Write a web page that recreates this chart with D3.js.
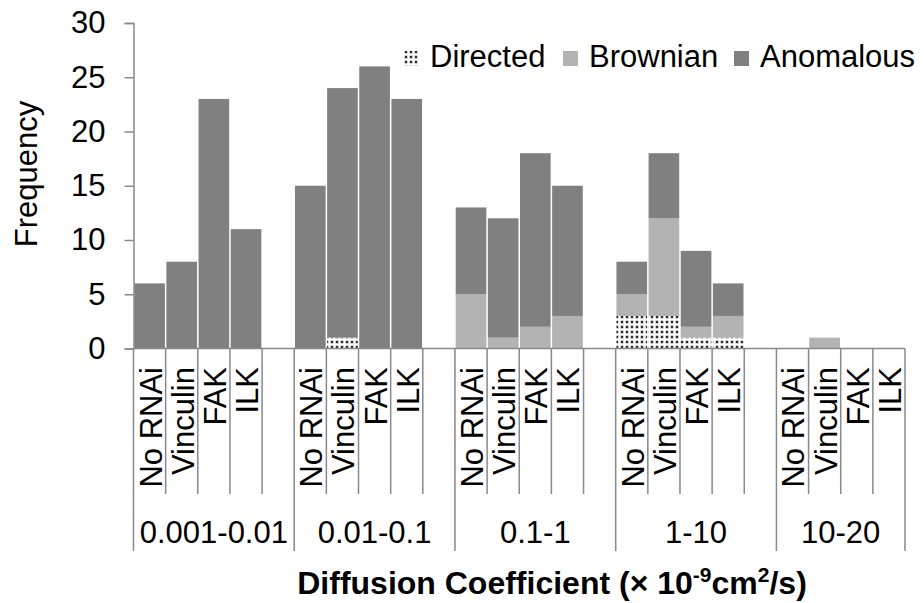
<!DOCTYPE html>
<html>
<head>
<meta charset="utf-8">
<script src="https://cdn.jsdelivr.net/npm/d3@7/dist/d3.min.js"></script>
<style>
  html, body { margin: 0; padding: 0; background: #fff; }
  svg { display: block; font-family: "Liberation Sans", Arial, sans-serif; }
</style>
</head>
<body>
<svg id="chart" width="924" height="603"></svg>
<script>
// Diffusion-coefficient bins and RNAi treatments
const groups = ["0.001-0.01", "0.01-0.1", "0.1-1", "1-10", "10-20"];
const treatments = ["No RNAi", "Vinculin", "FAK", "ILK"];

// Trajectory counts per bin (rows) and treatment (columns)
const directed  = [[0, 0, 0, 0], [0, 1, 0, 0], [0, 0, 0, 0], [3, 3, 1, 1], [0, 0, 0, 0]];
const brownian  = [[0, 0, 0, 0], [0, 0, 0, 0], [5, 1, 2, 3], [2, 9, 1, 2], [0, 1, 0, 0]];
const anomalous = [[6, 8, 23, 11], [15, 23, 26, 23], [8, 11, 16, 12], [3, 6, 7, 3], [0, 0, 0, 0]];

const seriesNames = ["Directed", "Brownian", "Anomalous"];
const yTicks = [0, 5, 10, 15, 20, 25, 30];

const svg = d3.select("#chart");
const axisColor = "#898989";
const fontSize = 31;

// Category slots: four treatments per bin, with an empty slot between bins
const slots = [];
groups.forEach((g, gi) => {
  treatments.forEach((t, ti) => slots.push({
    key: gi + "|" + t, group: gi, treatment: t,
    Directed: directed[gi][ti], Brownian: brownian[gi][ti], Anomalous: anomalous[gi][ti]
  }));
  if (gi < groups.length - 1) slots.push({ key: gi + "|gap", group: gi, treatment: null,
    Directed: 0, Brownian: 0, Anomalous: 0 });
});

const x = d3.scaleBand().domain(slots.map(d => d.key)).range([133.5, 905]).padding(0);
const y = d3.scaleLinear().domain([0, 30]).range([348.5, 23]);

// Dotted fill for the directed segments
const defs = svg.append("defs");
const pat = defs.append("pattern").attr("id", "dots")
  .attr("patternUnits", "userSpaceOnUse").attr("width", 5).attr("height", 5);
pat.append("rect").attr("width", 5).attr("height", 5).attr("fill", "#fff");
pat.append("rect").attr("x", 0.5).attr("y", 0.5).attr("width", 3).attr("height", 3).attr("fill", "#a0a0a0");
pat.append("rect").attr("x", 1).attr("y", 1).attr("width", 2).attr("height", 2).attr("fill", "#2a2a2a");

const fills = { Directed: "url(#dots)", Brownian: "#b3b3b3", Anomalous: "#808080" };

const stacked = d3.stack().keys(seriesNames)(slots);

svg.append("g").selectAll("g").data(stacked).join("g")
  .attr("fill", s => fills[s.key])
  .selectAll("rect").data(s => s.filter(d => d[1] > d[0])).join("rect")
  .attr("x", d => x(d.data.key) + 0.75)
  .attr("width", x.bandwidth() - 1.5)
  .attr("y", d => y(d[1]))
  .attr("height", d => y(d[0]) - y(d[1]));

// Y axis
const yAxis = svg.append("g").attr("transform", "translate(133.5,0)")
  .call(d3.axisLeft(y).tickValues(yTicks).tickSize(9).tickPadding(19));
yAxis.select(".domain").attr("stroke", axisColor).attr("stroke-width", 1.5);
yAxis.selectAll(".tick line").attr("stroke", axisColor).attr("stroke-width", 1.5);
yAxis.selectAll(".tick text").attr("font-size", fontSize).attr("fill", "#000")
  .attr("font-family", "Liberation Sans, Arial, sans-serif");

// Category axis baseline
svg.append("line").attr("x1", 133.5).attr("x2", 905).attr("y1", y(0)).attr("y2", y(0))
  .attr("stroke", axisColor).attr("stroke-width", 1.5);

// Slot boundary ticks: short between treatments, long at bin boundaries
const boundaries = d3.range(slots.length + 1).map(i => {
  const pos = i < slots.length ? x(slots[i].key) : x.range()[1];
  const isGroupEdge = i === slots.length || i === 0 || slots[i].group !== slots[i - 1].group;
  return { pos, long: isGroupEdge };
});
svg.append("g").selectAll("line").data(boundaries).join("line")
  .attr("x1", d => d.pos).attr("x2", d => d.pos)
  .attr("y1", y(0)).attr("y2", d => d.long ? 551 : 494)
  .attr("stroke", axisColor).attr("stroke-width", 1.5);

// Treatment labels (rotated)
svg.append("g").selectAll("text").data(slots.filter(d => d.treatment)).join("text")
  .attr("transform", d => `translate(${x(d.key) + x.bandwidth() / 2 + 12},367) rotate(-90)`)
  .attr("text-anchor", "end").attr("font-size", fontSize).attr("fill", "#000")
  .text(d => d.treatment);

// Bin labels, centred under each bin's span
const edges = boundaries.filter(b => b.long).map(b => b.pos);
svg.append("g").selectAll("text").data(groups).join("text")
  .attr("x", (g, gi) => (edges[gi] + edges[gi + 1]) / 2)
  .attr("y", 543).attr("text-anchor", "middle").attr("font-size", fontSize).attr("fill", "#000")
  .text(g => g);

// Axis titles
svg.append("text").attr("transform", "translate(37,174) rotate(-90)")
  .attr("text-anchor", "middle").attr("font-size", fontSize).attr("fill", "#000")
  .text("Frequency");

const xt = svg.append("text").attr("x", 552).attr("y", 594).attr("text-anchor", "middle")
  .attr("font-size", 32).attr("font-weight", "bold").attr("fill", "#000");
xt.append("tspan").text("Diffusion Coefficient (× 10");
xt.append("tspan").attr("font-size", 21).attr("dy", -12).text("-9");
xt.append("tspan").attr("dy", 12).text("cm");
xt.append("tspan").attr("font-size", 21).attr("dy", -12).text("2");
xt.append("tspan").attr("dy", 12).text("/s)");

// Legend
const legendX = { Directed: 404, Brownian: 563, Anomalous: 734 };
const lg = svg.append("g").selectAll("g").data(seriesNames).join("g")
  .attr("transform", d => `translate(${legendX[d]},0)`);
lg.append("rect").attr("x", 0).attr("y", 51).attr("width", 15).attr("height", 15)
  .attr("fill", d => fills[d]);
lg.append("text").attr("x", 26).attr("y", 67).attr("font-size", fontSize).attr("fill", "#000")
  .text(d => d);
</script>
</body>
</html>
